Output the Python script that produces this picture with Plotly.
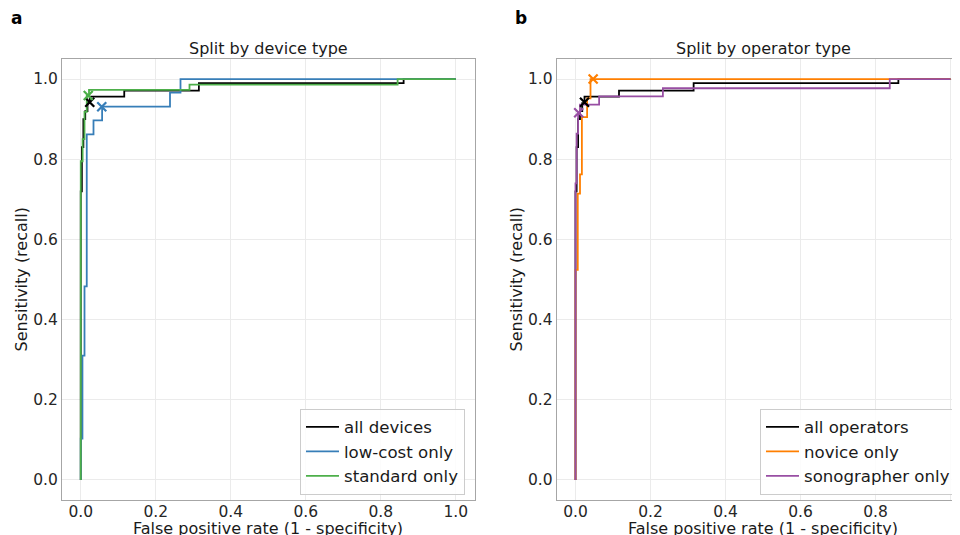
import plotly.graph_objects as go

# ---------------- data ----------------
# all cases (identical curve in both panels)
fpr_all = [0, 0, 0.003, 0.003, 0.007, 0.007, 0.012, 0.012, 0.018, 0.018, 0.024, 0.024, 0.116, 0.116, 0.315, 0.315, 0.861, 0.861, 1.0]
tpr_all = [0, 0.72, 0.72, 0.83, 0.83, 0.90, 0.90, 0.92, 0.92, 0.94, 0.94, 0.956, 0.956, 0.971, 0.971, 0.99, 0.99, 1.0, 1.0]
op_all = (0.024, 0.942)

# panel a: device type
fpr_lowcost = [0, 0, 0.0045, 0.0045, 0.010, 0.010, 0.016, 0.016, 0.034, 0.034, 0.057, 0.057, 0.238, 0.238, 0.266, 0.266, 1.0]
tpr_lowcost = [0, 0.103, 0.103, 0.31, 0.31, 0.483, 0.483, 0.862, 0.862, 0.897, 0.897, 0.931, 0.931, 0.966, 0.966, 1.0, 1.0]
op_lowcost = (0.056, 0.931)

fpr_standard = [0, 0, 0.005, 0.005, 0.010, 0.010, 0.016, 0.016, 0.022, 0.022, 0.29, 0.29, 0.845, 0.845, 1.0]
tpr_standard = [0, 0.795, 0.795, 0.85, 0.85, 0.918, 0.918, 0.959, 0.959, 0.973, 0.973, 0.986, 0.986, 1.0, 1.0]
op_standard = (0.020, 0.959)

# panel b: operator type
fpr_novice = [0, 0, 0.006, 0.006, 0.012, 0.012, 0.017, 0.017, 0.031, 0.031, 0.040, 0.040, 1.0]
tpr_novice = [0, 0.524, 0.524, 0.714, 0.714, 0.762, 0.762, 0.905, 0.905, 0.952, 0.952, 1.0, 1.0]
op_novice = (0.047, 1.0)

fpr_sono = [0, 0, 0.003, 0.003, 0.007, 0.007, 0.012, 0.012, 0.063, 0.063, 0.233, 0.233, 0.838, 0.838, 1.0]
tpr_sono = [0, 0.74, 0.74, 0.864, 0.864, 0.914, 0.914, 0.936, 0.936, 0.957, 0.957, 0.977, 0.977, 1.0, 1.0]
op_sono = (0.0085, 0.916)

names_a = ["all devices", "low-cost only", "standard only"]
names_b = ["all operators", "novice only", "sonographer only"]
titles = ["Split by device type", "Split by operator type"]
panel_letters = ["a", "b"]
xlabel = "False positive rate (1 - specificity)"
ylabel = "Sensitivity (recall)"
tick_vals = [0.0, 0.2, 0.4, 0.6, 0.8, 1.0]

C_BLACK = "#000000"
C_BLUE = "#377eb8"
C_GREEN = "#4daf4a"
C_ORANGE = "#ff7f00"
C_PURPLE = "#984ea3"

# page body has an 8px default margin: figure is placed at (8, 8) in the window
OFF = 8
W, H = 960 - OFF, 535 - OFF
FONT = "DejaVu Sans"

def fx(px):
    return (px - OFF) / W

def fy(py):
    return 1 - (py - OFF) / H

fig = go.Figure()

def add_curve(x, y, name, color, xa, ya, legend):
    fig.add_trace(go.Scatter(
        x=x, y=y, mode="lines", name=name,
        line=dict(color=color, width=1.8),
        xaxis=xa, yaxis=ya, legend=legend, legendgroup=name,
    ))

def add_op(pt, color, xa, ya):
    fig.add_trace(go.Scatter(
        x=[pt[0]], y=[pt[1]], mode="markers", showlegend=False,
        marker=dict(symbol="x-thin", size=9, color=color,
                    line=dict(color=color, width=2.2)),
        xaxis=xa, yaxis=ya,
    ))

# panel a
add_curve(fpr_all, tpr_all, names_a[0], C_BLACK, "x", "y", "legend")
add_curve(fpr_lowcost, tpr_lowcost, names_a[1], C_BLUE, "x", "y", "legend")
add_curve(fpr_standard, tpr_standard, names_a[2], C_GREEN, "x", "y", "legend")
add_op(op_all, C_BLACK, "x", "y")
add_op(op_lowcost, C_BLUE, "x", "y")
add_op(op_standard, C_GREEN, "x", "y")

# panel b
add_curve(fpr_all, tpr_all, names_b[0], C_BLACK, "x2", "y2", "legend2")
add_curve(fpr_novice, tpr_novice, names_b[1], C_ORANGE, "x2", "y2", "legend2")
add_curve(fpr_sono, tpr_sono, names_b[2], C_PURPLE, "x2", "y2", "legend2")
add_op(op_all, C_BLACK, "x2", "y2")
add_op(op_novice, C_ORANGE, "x2", "y2")
add_op(op_sono, C_PURPLE, "x2", "y2")

AX_COLOR = "#a6a6a6"
GRID = "#ebebeb"
tick_text = [f"{v:.1f}" for v in tick_vals]

common_x = dict(tickvals=tick_vals, ticktext=tick_text, showgrid=True, gridcolor=GRID,
                gridwidth=1, zeroline=False, showline=True, linecolor=AX_COLOR, linewidth=1,
                ticks="", tickfont=dict(family=FONT, size=15.5, color="#262626"),
                ticklabelstandoff=-3)
common_y = dict(tickvals=tick_vals, ticktext=tick_text, showgrid=True, gridcolor=GRID,
                gridwidth=1, zeroline=False, showline=True, linecolor=AX_COLOR, linewidth=1,
                ticks="", tickfont=dict(family=FONT, size=15.5, color="#262626"),
                ticklabelstandoff=0, range=[-0.05, 1.05])

legend_common = dict(bgcolor="rgba(255,255,255,0.85)", bordercolor="#cccccc", borderwidth=1,
                     font=dict(family=FONT, size=16.6, color="#1a1a1a"),
                     tracegroupgap=0, itemwidth=33, yanchor="bottom")

right_end = (960 - 575.5) / 375.0

fig.update_layout(
    width=W, height=H,
    margin=dict(l=0, r=0, t=0, b=0, autoexpand=False),
    plot_bgcolor="white", paper_bgcolor="white",
    font=dict(family=FONT, color="#1a1a1a"),
    xaxis=dict(domain=[fx(62), fx(474.5)], range=[-0.05, 1.05], mirror=True, anchor="y", **common_x),
    yaxis=dict(domain=[fy(500), fy(59)], mirror=True, anchor="x", **common_y),
    xaxis2=dict(domain=[fx(556.75), 1.0], range=[-0.05, right_end], mirror=True, anchor="y2", **common_x),
    yaxis2=dict(domain=[fy(500), fy(59)], mirror=False, anchor="x2", **common_y),
    legend=dict(x=fx(465), y=fy(494.5), xanchor="right", **legend_common),
    legend2=dict(x=fx(760), y=fy(494.5), xanchor="left", **legend_common),
    showlegend=True,
)

ann = []
centers = [(62 + 474.5) / 2, (556.75 + 969.25) / 2]
for i in range(2):
    ann.append(dict(text=titles[i], x=fx(centers[i]), y=fy(60), xref="paper", yref="paper",
                    xanchor="center", yanchor="bottom", showarrow=False,
                    font=dict(family=FONT, size=16, color="#1a1a1a")))
    ann.append(dict(text=xlabel, x=fx(centers[i]), y=fy(517), xref="paper", yref="paper",
                    xanchor="center", yanchor="top", showarrow=False,
                    font=dict(family=FONT, size=16, color="#1a1a1a")))
    ann.append(dict(text=ylabel, x=fx([21, 516][i]), y=fy(279.5), xref="paper", yref="paper",
                    xanchor="center", yanchor="middle", textangle=-90, showarrow=False,
                    font=dict(family=FONT, size=16, color="#1a1a1a")))
    ann.append(dict(text=f"<b>{panel_letters[i]}</b>", x=fx([9, 513][i]), y=fy(18), xref="paper", yref="paper",
                    xanchor="left", yanchor="middle", showarrow=False,
                    font=dict(family=FONT, size=17, color="#000000")))
fig.update_layout(annotations=ann)

fig.write_html("out.html")
